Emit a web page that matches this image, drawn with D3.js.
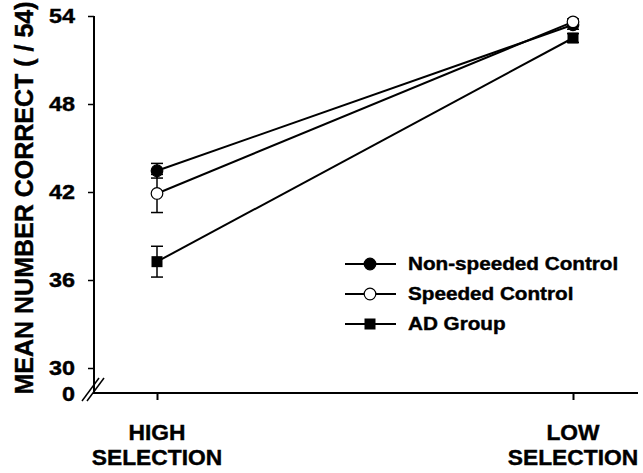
<!DOCTYPE html>
<html><head><meta charset="utf-8">
<script src="https://cdn.jsdelivr.net/npm/d3@7"></script>
<style>body{margin:0;background:#fff}svg{display:block}text{font-family:Arial,"Liberation Sans",sans-serif;font-weight:bold;fill:#000;stroke:#000;stroke-width:0.4px}</style>
</head><body><svg id="c" width="643" height="473"></svg>
<script>
const categories = ["HIGH\nSELECTION", "LOW\nSELECTION"];
const seriesNames = ["Non-speeded Control", "Speeded Control", "AD Group"];
const nonSpeeded = [43.45, 53.4];
const nonSpeededErr = [0.5, 0.3];
const speeded = [41.9, 53.6];
const speededErr = [1.3, 0.2];
const adGroup = [37.25, 52.5];
const adGroupErr = [1.05, 0.3];
const yTicks = [30, 36, 42, 48, 54];
const yBreakLabel = "0";
const yTitle = "MEAN NUMBER CORRECT ( / 54)";

const svg = d3.select("#c");
const x = d3.scalePoint().domain(categories).range([157, 573]);
const y = d3.scaleLinear().domain([30, 54]).range([368, 16]);
const axisX0 = 94, axisY0 = 393, axisXEnd = 638;

// axes
svg.append("line").attr("x1", axisX0).attr("x2", axisX0).attr("y1", 16).attr("y2", axisY0).attr("stroke", "#000").attr("stroke-width", 2);
svg.append("line").attr("x1", axisX0 - 1).attr("x2", axisXEnd).attr("y1", axisY0).attr("y2", axisY0).attr("stroke", "#000").attr("stroke-width", 2);

const yAxis = d3.axisLeft(y).tickValues(yTicks).tickSize(6).tickFormat("");
const gy = svg.append("g").attr("transform", `translate(${axisX0},0)`).call(yAxis);
gy.select(".domain").remove();
gy.selectAll(".tick line").attr("stroke", "#000").attr("stroke-width", 1.5);

// y tick labels (stretched horizontally like the reference)
yTicks.forEach(t => {
  svg.append("text")
    .attr("transform", `translate(75,${y(t) + 7}) scale(1.17,1)`)
    .attr("text-anchor", "end").attr("font-size", 20).style("font-size", "20px").text(String(t));
});
svg.append("text")
  .attr("transform", `translate(75,${axisY0 + 8}) scale(1.17,1)`)
  .attr("text-anchor", "end").attr("font-size", 20).style("font-size", "20px").text(yBreakLabel);

// break slashes
[0, 5].forEach(o => {
  svg.append("line").attr("x1", 82 + o).attr("y1", 401).attr("x2", 99 + o).attr("y2", 378).attr("stroke", "#000").attr("stroke-width", 1.5);
});

// x ticks
const xAxis = d3.axisBottom(x).tickSize(7).tickFormat("");
const gx = svg.append("g").attr("transform", `translate(0,${axisY0})`).call(xAxis);
gx.select(".domain").remove();
gx.selectAll(".tick line").attr("stroke", "#000").attr("stroke-width", 2);
categories.forEach(c => {
  const parts = c.split("\n");
  parts.forEach((p, i) => {
    svg.append("text")
      .attr("transform", `translate(${x(c)},${440 + i * 25}) scale(1.06,1)`)
      .attr("text-anchor", "middle").attr("font-size", 21.5).style("font-size", "21.5px").text(p);
  });
});

// y title
svg.append("text").attr("transform", "translate(33,198) rotate(-90)").attr("text-anchor", "middle")
  .attr("font-size", 25).style("font-size", "25px").text(yTitle);

const series = [
  { name: seriesNames[0], vals: nonSpeeded, err: nonSpeededErr, shape: "circle", fill: "#000" },
  { name: seriesNames[1], vals: speeded, err: speededErr, shape: "circle", fill: "#fff" },
  { name: seriesNames[2], vals: adGroup, err: adGroupErr, shape: "square", fill: "#000" }
];

const line = d3.line().x((d, i) => x(categories[i])).y(d => y(d));
function marker(g, s, cx, cy) {
  if (s.shape === "circle") {
    g.append("circle").attr("cx", cx).attr("cy", cy).attr("r", 5.8).attr("fill", s.fill).attr("stroke", "#000").attr("stroke-width", 1.2);
  } else {
    g.append("rect").attr("x", cx - 5.5).attr("y", cy - 5.5).attr("width", 11).attr("height", 11).attr("fill", s.fill);
  }
}

// error bars
series.forEach(s => {
  s.vals.forEach((v, i) => {
    const cx = x(categories[i]);
    const g = svg.append("g").attr("stroke", "#000").attr("stroke-width", 1.5);
    g.append("line").attr("x1", cx).attr("x2", cx).attr("y1", y(v + s.err[i])).attr("y2", y(v - s.err[i]));
    [v + s.err[i], v - s.err[i]].forEach(e => g.append("line").attr("x1", cx - 6).attr("x2", cx + 6).attr("y1", y(e)).attr("y2", y(e)));
  });
});
series.forEach(s => {
  svg.append("path").datum(s.vals).attr("d", line).attr("fill", "none").attr("stroke", "#000").attr("stroke-width", 2);
});
series.forEach(s => {
  s.vals.forEach((v, i) => marker(svg, s, x(categories[i]), y(v)));
});

// legend
series.forEach((s, i) => {
  const ly = 264 + i * 30;
  svg.append("line").attr("x1", 345).attr("x2", 396).attr("y1", ly).attr("y2", ly).attr("stroke", "#000").attr("stroke-width", 2);
  marker(svg, s, 370, ly);
  svg.append("text").attr("transform", `translate(408,${ly + 6}) scale(1.15,1)`)
    .attr("font-size", 18).style("font-size", "18px").text(s.name);
});
</script></body></html>
